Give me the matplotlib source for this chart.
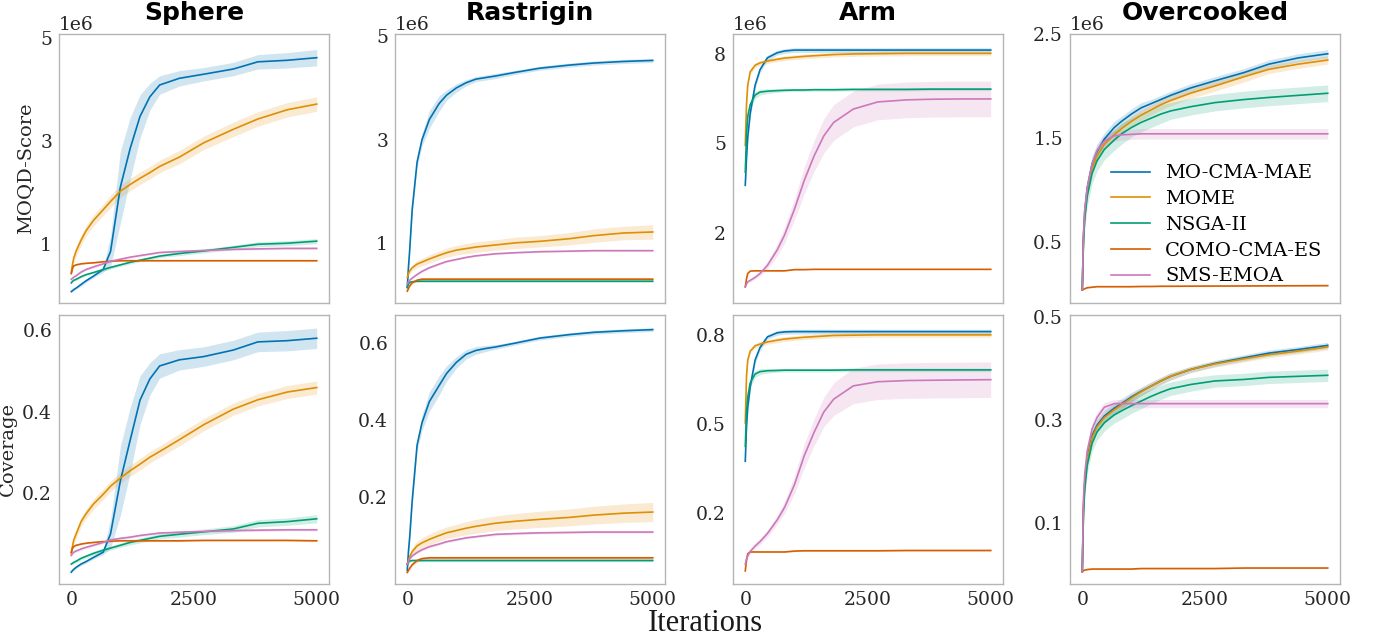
import matplotlib
matplotlib.use("Agg")
import matplotlib.pyplot as plt
import numpy as np

plt.rcParams['font.family'] = ['DejaVu Serif']
plt.rcParams['xtick.labelsize'] = 13.5
plt.rcParams['ytick.labelsize'] = 13.5

ITERS = [0, 25, 50, 100, 200, 300, 450, 650, 800, 1000, 1200, 1400, 1600, 1800,
         2200, 2700, 3300, 3800, 4400, 5000]

ALGOS = ['MO-CMA-MAE', 'MOME', 'NSGA-II', 'COMO-CMA-ES', 'SMS-EMOA']
COLORS = ['#0173B2', '#DE8F05', '#029E73', '#D55E00', '#CC78BC']
ENVS = ['Sphere', 'Rastrigin', 'Arm', 'Overcooked']

# ---- MOQD-Score (in units of 1e6), rows follow ALGOS ----
sphere_score = [
    [0.07, 0.09, 0.11, 0.14, 0.21, 0.28, 0.37, 0.50, 0.85, 2.10, 2.85, 3.47, 3.85, 4.08, 4.21, 4.29, 4.39, 4.53, 4.56, 4.61],
    [0.44, 0.60, 0.72, 0.86, 1.07, 1.25, 1.45, 1.66, 1.82, 2.02, 2.15, 2.27, 2.38, 2.50, 2.68, 2.96, 3.22, 3.42, 3.60, 3.71],
    [0.24, 0.27, 0.29, 0.31, 0.36, 0.40, 0.44, 0.50, 0.54, 0.59, 0.64, 0.68, 0.72, 0.76, 0.81, 0.86, 0.93, 0.99, 1.01, 1.05],
    [0.42, 0.52, 0.57, 0.59, 0.61, 0.62, 0.63, 0.65, 0.66, 0.67, 0.67, 0.67, 0.67, 0.67, 0.67, 0.67, 0.67, 0.67, 0.67, 0.67],
    [0.31, 0.33, 0.35, 0.38, 0.45, 0.50, 0.55, 0.61, 0.66, 0.70, 0.74, 0.77, 0.80, 0.83, 0.85, 0.87, 0.89, 0.90, 0.91, 0.91],
]
sphere_score_sd = [
    [0.02, 0.02, 0.02, 0.02, 0.03, 0.03, 0.03, 0.05, 0.30, 0.70, 0.60, 0.42, 0.26, 0.18, 0.15, 0.13, 0.13, 0.14, 0.15, 0.16],
    [0.06, 0.08, 0.09, 0.10, 0.10, 0.10, 0.11, 0.11, 0.12, 0.12, 0.12, 0.12, 0.12, 0.12, 0.13, 0.13, 0.14, 0.14, 0.14, 0.14],
    [0.02, 0.02, 0.02, 0.02, 0.02, 0.02, 0.02, 0.03, 0.03, 0.03, 0.03, 0.03, 0.03, 0.03, 0.04, 0.04, 0.04, 0.05, 0.05, 0.05],
    [0.01, 0.01, 0.01, 0.01, 0.01, 0.01, 0.01, 0.01, 0.01, 0.01, 0.01, 0.01, 0.01, 0.01, 0.01, 0.01, 0.01, 0.01, 0.01, 0.01],
    [0.01, 0.01, 0.01, 0.01, 0.02, 0.02, 0.02, 0.02, 0.02, 0.02, 0.02, 0.02, 0.02, 0.02, 0.02, 0.02, 0.02, 0.02, 0.02, 0.02],
]
rastrigin_score = [
    [0.15, 0.55, 0.88, 1.65, 2.57, 3.00, 3.39, 3.70, 3.86, 4.00, 4.10, 4.17, 4.20, 4.23, 4.30, 4.38, 4.44, 4.48, 4.51, 4.53],
    [0.34, 0.42, 0.47, 0.53, 0.60, 0.64, 0.70, 0.77, 0.82, 0.87, 0.90, 0.93, 0.95, 0.97, 1.01, 1.04, 1.09, 1.15, 1.20, 1.22],
    [0.15, 0.22, 0.25, 0.26, 0.27, 0.27, 0.27, 0.27, 0.27, 0.27, 0.27, 0.27, 0.27, 0.27, 0.27, 0.27, 0.27, 0.27, 0.27, 0.27],
    [0.08, 0.13, 0.18, 0.24, 0.29, 0.31, 0.31, 0.31, 0.31, 0.31, 0.31, 0.31, 0.31, 0.31, 0.31, 0.31, 0.31, 0.31, 0.31, 0.31],
    [0.22, 0.26, 0.29, 0.33, 0.40, 0.46, 0.53, 0.60, 0.65, 0.69, 0.73, 0.76, 0.78, 0.80, 0.82, 0.84, 0.85, 0.86, 0.86, 0.86],
]
rastrigin_score_sd = [
    [0.02, 0.05, 0.05, 0.08, 0.10, 0.12, 0.17, 0.15, 0.10, 0.08, 0.06, 0.05, 0.05, 0.05, 0.04, 0.04, 0.04, 0.04, 0.04, 0.04],
    [0.05, 0.05, 0.06, 0.06, 0.07, 0.07, 0.08, 0.08, 0.09, 0.09, 0.10, 0.10, 0.10, 0.10, 0.11, 0.11, 0.12, 0.13, 0.13, 0.14],
    [0.02, 0.02, 0.02, 0.02, 0.02, 0.02, 0.02, 0.02, 0.02, 0.02, 0.02, 0.02, 0.02, 0.02, 0.02, 0.02, 0.02, 0.02, 0.02, 0.02],
    [0.02, 0.02, 0.02, 0.02, 0.02, 0.02, 0.02, 0.02, 0.02, 0.02, 0.02, 0.02, 0.02, 0.02, 0.02, 0.02, 0.02, 0.02, 0.02, 0.02],
    [0.01, 0.01, 0.01, 0.01, 0.015, 0.015, 0.015, 0.015, 0.015, 0.015, 0.015, 0.015, 0.015, 0.015, 0.015, 0.015, 0.015, 0.015, 0.015, 0.015],
]
arm_score = [
    [3.59, 4.50, 5.20, 6.00, 6.95, 7.47, 7.87, 8.04, 8.10, 8.13, 8.13, 8.13, 8.13, 8.13, 8.13, 8.13, 8.13, 8.13, 8.13, 8.13],
    [4.93, 6.30, 6.95, 7.40, 7.62, 7.70, 7.76, 7.82, 7.86, 7.89, 7.92, 7.94, 7.96, 7.98, 8.00, 8.01, 8.02, 8.02, 8.02, 8.02],
    [4.03, 5.30, 5.90, 6.30, 6.62, 6.72, 6.75, 6.77, 6.78, 6.79, 6.79, 6.80, 6.80, 6.80, 6.81, 6.81, 6.81, 6.82, 6.82, 6.82],
    [0.18, 0.45, 0.63, 0.71, 0.72, 0.72, 0.72, 0.72, 0.72, 0.76, 0.76, 0.77, 0.77, 0.77, 0.77, 0.77, 0.77, 0.77, 0.77, 0.77],
    [0.18, 0.28, 0.35, 0.40, 0.50, 0.63, 0.90, 1.42, 1.92, 2.78, 3.75, 4.57, 5.25, 5.70, 6.15, 6.39, 6.46, 6.48, 6.49, 6.49],
]
arm_score_sd = [
    [0.05, 0.10, 0.12, 0.15, 0.12, 0.10, 0.09, 0.08, 0.08, 0.08, 0.08, 0.08, 0.08, 0.08, 0.08, 0.08, 0.08, 0.08, 0.08, 0.08],
    [0.05, 0.08, 0.08, 0.08, 0.08, 0.08, 0.08, 0.08, 0.08, 0.08, 0.08, 0.08, 0.08, 0.08, 0.08, 0.08, 0.08, 0.08, 0.08, 0.08],
    [0.05, 0.10, 0.12, 0.12, 0.12, 0.10, 0.08, 0.06, 0.05, 0.05, 0.05, 0.05, 0.05, 0.05, 0.05, 0.05, 0.05, 0.05, 0.05, 0.05],
    [0.01, 0.01, 0.01, 0.01, 0.01, 0.01, 0.01, 0.01, 0.01, 0.01, 0.01, 0.01, 0.01, 0.01, 0.01, 0.01, 0.01, 0.01, 0.01, 0.01],
    [0.03, 0.03, 0.04, 0.05, 0.06, 0.08, 0.12, 0.20, 0.27, 0.35, 0.45, 0.52, 0.58, 0.60, 0.60, 0.60, 0.60, 0.60, 0.60, 0.60],
]
overcooked_score = [
    [0.04, 0.57, 0.80, 1.02, 1.25, 1.37, 1.49, 1.60, 1.66, 1.73, 1.79, 1.83, 1.87, 1.91, 1.98, 2.05, 2.13, 2.21, 2.27, 2.31],
    [0.04, 0.54, 0.75, 0.97, 1.21, 1.33, 1.44, 1.53, 1.59, 1.66, 1.72, 1.77, 1.82, 1.86, 1.93, 2.00, 2.09, 2.16, 2.21, 2.25],
    [0.04, 0.51, 0.72, 0.94, 1.16, 1.28, 1.39, 1.48, 1.54, 1.60, 1.65, 1.69, 1.73, 1.76, 1.80, 1.84, 1.87, 1.89, 1.91, 1.93],
    [0.04, 0.045, 0.05, 0.06, 0.065, 0.07, 0.07, 0.07, 0.07, 0.07, 0.072, 0.072, 0.074, 0.074, 0.075, 0.076, 0.077, 0.078, 0.079, 0.08],
    [0.04, 0.57, 0.80, 1.02, 1.25, 1.38, 1.47, 1.52, 1.53, 1.535, 1.54, 1.54, 1.54, 1.54, 1.54, 1.54, 1.54, 1.54, 1.54, 1.54],
]
overcooked_score_sd = [
    [0.01, 0.06, 0.08, 0.08, 0.08, 0.07, 0.06, 0.06, 0.05, 0.05, 0.05, 0.04, 0.04, 0.04, 0.04, 0.04, 0.04, 0.04, 0.04, 0.04],
    [0.01, 0.05, 0.06, 0.06, 0.06, 0.06, 0.05, 0.05, 0.05, 0.05, 0.05, 0.05, 0.05, 0.05, 0.05, 0.05, 0.05, 0.04, 0.04, 0.04],
    [0.01, 0.08, 0.10, 0.10, 0.10, 0.10, 0.10, 0.10, 0.10, 0.09, 0.09, 0.09, 0.09, 0.08, 0.08, 0.08, 0.08, 0.08, 0.08, 0.08],
    [0.005, 0.005, 0.005, 0.005, 0.005, 0.005, 0.005, 0.005, 0.005, 0.005, 0.005, 0.005, 0.005, 0.005, 0.005, 0.005, 0.005, 0.005, 0.005, 0.005],
    [0.01, 0.05, 0.05, 0.05, 0.05, 0.05, 0.05, 0.05, 0.05, 0.05, 0.05, 0.05, 0.05, 0.05, 0.05, 0.05, 0.05, 0.05, 0.05, 0.05],
]

# ---- Coverage ----
sphere_cov = [
    [0.006, 0.010, 0.013, 0.018, 0.026, 0.032, 0.042, 0.055, 0.100, 0.230, 0.330, 0.428, 0.480, 0.512, 0.527, 0.535, 0.551, 0.571, 0.574, 0.580],
    [0.052, 0.070, 0.085, 0.100, 0.130, 0.149, 0.173, 0.197, 0.217, 0.237, 0.255, 0.271, 0.288, 0.302, 0.331, 0.368, 0.406, 0.429, 0.448, 0.459],
    [0.026, 0.028, 0.030, 0.033, 0.040, 0.045, 0.052, 0.060, 0.065, 0.072, 0.079, 0.084, 0.089, 0.094, 0.099, 0.105, 0.112, 0.126, 0.130, 0.137],
    [0.055, 0.065, 0.069, 0.072, 0.075, 0.077, 0.079, 0.081, 0.082, 0.083, 0.083, 0.083, 0.083, 0.083, 0.083, 0.084, 0.084, 0.084, 0.084, 0.083],
    [0.047, 0.052, 0.055, 0.058, 0.063, 0.067, 0.072, 0.079, 0.085, 0.089, 0.092, 0.096, 0.099, 0.102, 0.104, 0.106, 0.108, 0.109, 0.110, 0.110],
]
sphere_cov_sd = [
    [0.002, 0.002, 0.003, 0.003, 0.003, 0.004, 0.004, 0.006, 0.035, 0.085, 0.080, 0.060, 0.040, 0.030, 0.025, 0.024, 0.024, 0.024, 0.025, 0.025],
    [0.008, 0.010, 0.011, 0.012, 0.012, 0.012, 0.013, 0.013, 0.013, 0.013, 0.014, 0.014, 0.014, 0.014, 0.015, 0.015, 0.015, 0.015, 0.016, 0.016],
    [0.003, 0.003, 0.003, 0.004, 0.004, 0.004, 0.005, 0.005, 0.005, 0.005, 0.006, 0.006, 0.006, 0.006, 0.007, 0.007, 0.008, 0.009, 0.009, 0.010],
    [0.002, 0.002, 0.002, 0.002, 0.002, 0.002, 0.002, 0.002, 0.002, 0.002, 0.002, 0.002, 0.002, 0.002, 0.002, 0.002, 0.002, 0.002, 0.002, 0.002],
    [0.002, 0.002, 0.002, 0.002, 0.003, 0.003, 0.003, 0.003, 0.003, 0.003, 0.003, 0.003, 0.003, 0.003, 0.003, 0.003, 0.003, 0.003, 0.003, 0.003],
]
rastrigin_cov = [
    [0.009, 0.060, 0.097, 0.190, 0.335, 0.393, 0.448, 0.490, 0.521, 0.550, 0.571, 0.581, 0.586, 0.590, 0.600, 0.613, 0.622, 0.628, 0.632, 0.635],
    [0.026, 0.035, 0.045, 0.058, 0.073, 0.081, 0.090, 0.100, 0.107, 0.113, 0.119, 0.124, 0.128, 0.132, 0.137, 0.142, 0.147, 0.153, 0.158, 0.161],
    [0.026, 0.031, 0.034, 0.035, 0.035, 0.035, 0.035, 0.035, 0.035, 0.035, 0.035, 0.035, 0.035, 0.035, 0.035, 0.035, 0.035, 0.035, 0.035, 0.035],
    [0.004, 0.010, 0.015, 0.024, 0.035, 0.040, 0.042, 0.042, 0.042, 0.042, 0.042, 0.042, 0.042, 0.042, 0.042, 0.042, 0.042, 0.042, 0.042, 0.042],
    [0.026, 0.033, 0.040, 0.047, 0.056, 0.063, 0.071, 0.078, 0.084, 0.089, 0.094, 0.097, 0.100, 0.103, 0.105, 0.107, 0.108, 0.109, 0.109, 0.109],
]
rastrigin_cov_sd = [
    [0.003, 0.008, 0.010, 0.012, 0.015, 0.020, 0.025, 0.025, 0.020, 0.015, 0.012, 0.010, 0.008, 0.006, 0.005, 0.005, 0.005, 0.005, 0.005, 0.005],
    [0.008, 0.010, 0.010, 0.011, 0.012, 0.013, 0.014, 0.015, 0.015, 0.016, 0.017, 0.018, 0.019, 0.019, 0.020, 0.021, 0.022, 0.023, 0.024, 0.025],
    [0.003, 0.003, 0.003, 0.003, 0.003, 0.003, 0.003, 0.003, 0.003, 0.003, 0.003, 0.003, 0.003, 0.003, 0.003, 0.003, 0.003, 0.003, 0.003, 0.003],
    [0.004, 0.004, 0.004, 0.004, 0.004, 0.004, 0.004, 0.004, 0.004, 0.004, 0.004, 0.004, 0.004, 0.004, 0.004, 0.004, 0.004, 0.004, 0.004, 0.004],
    [0.003, 0.003, 0.003, 0.003, 0.003, 0.003, 0.003, 0.003, 0.003, 0.003, 0.003, 0.003, 0.003, 0.003, 0.003, 0.003, 0.003, 0.003, 0.003, 0.003],
]
arm_cov = [
    [0.374, 0.490, 0.555, 0.625, 0.715, 0.757, 0.793, 0.807, 0.810, 0.811, 0.811, 0.811, 0.811, 0.811, 0.811, 0.811, 0.811, 0.811, 0.811, 0.811],
    [0.503, 0.660, 0.715, 0.745, 0.763, 0.769, 0.776, 0.782, 0.786, 0.789, 0.792, 0.794, 0.796, 0.798, 0.799, 0.800, 0.800, 0.800, 0.800, 0.800],
    [0.424, 0.540, 0.590, 0.638, 0.668, 0.676, 0.679, 0.680, 0.681, 0.681, 0.681, 0.681, 0.681, 0.681, 0.682, 0.682, 0.682, 0.682, 0.682, 0.682],
    [0.004, 0.040, 0.062, 0.068, 0.068, 0.068, 0.068, 0.068, 0.068, 0.071, 0.072, 0.072, 0.072, 0.072, 0.072, 0.072, 0.073, 0.073, 0.073, 0.073],
    [0.026, 0.045, 0.055, 0.070, 0.088, 0.103, 0.130, 0.176, 0.218, 0.294, 0.392, 0.471, 0.540, 0.583, 0.628, 0.642, 0.646, 0.647, 0.648, 0.649],
]
arm_cov_sd = [
    [0.005, 0.012, 0.015, 0.015, 0.012, 0.010, 0.008, 0.008, 0.008, 0.008, 0.008, 0.008, 0.008, 0.008, 0.008, 0.008, 0.008, 0.008, 0.008, 0.008],
    [0.008, 0.008, 0.008, 0.008, 0.008, 0.008, 0.008, 0.008, 0.008, 0.008, 0.008, 0.008, 0.008, 0.008, 0.008, 0.008, 0.008, 0.008, 0.008, 0.008],
    [0.005, 0.012, 0.014, 0.014, 0.012, 0.010, 0.008, 0.006, 0.006, 0.006, 0.006, 0.006, 0.006, 0.006, 0.006, 0.006, 0.006, 0.006, 0.006, 0.006],
    [0.002, 0.002, 0.002, 0.002, 0.002, 0.002, 0.002, 0.002, 0.002, 0.002, 0.002, 0.002, 0.002, 0.002, 0.002, 0.002, 0.002, 0.002, 0.002, 0.002],
    [0.004, 0.005, 0.006, 0.007, 0.008, 0.010, 0.012, 0.015, 0.020, 0.030, 0.040, 0.045, 0.050, 0.055, 0.060, 0.060, 0.060, 0.060, 0.060, 0.060],
]
overcooked_cov = [
    [0.006, 0.135, 0.180, 0.228, 0.270, 0.290, 0.308, 0.323, 0.332, 0.345, 0.356, 0.366, 0.376, 0.385, 0.398, 0.410, 0.421, 0.430, 0.437, 0.445],
    [0.006, 0.130, 0.175, 0.224, 0.266, 0.287, 0.305, 0.320, 0.330, 0.343, 0.355, 0.366, 0.376, 0.385, 0.398, 0.409, 0.419, 0.427, 0.434, 0.442],
    [0.006, 0.120, 0.165, 0.212, 0.255, 0.277, 0.295, 0.310, 0.318, 0.328, 0.337, 0.346, 0.354, 0.361, 0.369, 0.376, 0.379, 0.383, 0.385, 0.387],
    [0.006, 0.008, 0.009, 0.010, 0.011, 0.011, 0.011, 0.011, 0.011, 0.011, 0.012, 0.012, 0.012, 0.012, 0.012, 0.012, 0.013, 0.013, 0.013, 0.013],
    [0.006, 0.150, 0.195, 0.240, 0.283, 0.305, 0.325, 0.332, 0.332, 0.332, 0.332, 0.332, 0.332, 0.332, 0.332, 0.332, 0.332, 0.332, 0.332, 0.332],
]
overcooked_cov_sd = [
    [0.001, 0.010, 0.012, 0.012, 0.012, 0.012, 0.012, 0.011, 0.010, 0.009, 0.008, 0.008, 0.007, 0.007, 0.006, 0.006, 0.006, 0.006, 0.006, 0.006],
    [0.001, 0.010, 0.012, 0.012, 0.012, 0.012, 0.011, 0.010, 0.009, 0.008, 0.008, 0.007, 0.007, 0.007, 0.006, 0.006, 0.006, 0.006, 0.006, 0.006],
    [0.001, 0.012, 0.015, 0.016, 0.016, 0.016, 0.016, 0.016, 0.016, 0.015, 0.015, 0.014, 0.014, 0.013, 0.013, 0.012, 0.012, 0.012, 0.012, 0.012],
    [0.001, 0.001, 0.001, 0.001, 0.001, 0.001, 0.001, 0.001, 0.001, 0.001, 0.001, 0.001, 0.001, 0.001, 0.001, 0.001, 0.001, 0.001, 0.001, 0.001],
    [0.001, 0.008, 0.010, 0.010, 0.010, 0.010, 0.009, 0.008, 0.008, 0.008, 0.008, 0.008, 0.008, 0.008, 0.008, 0.008, 0.008, 0.008, 0.008, 0.008],
]

score_ticks = [[1, 3, 5], [1, 3, 5], [2, 5, 8], [0.5, 1.5, 2.5]]
cov_ticks = [[0.2, 0.4, 0.6], [0.2, 0.4, 0.6], [0.2, 0.5, 0.8], [0.1, 0.3, 0.5]]
x_ticks = [0, 2500, 5000]

scores = [sphere_score, rastrigin_score, arm_score, overcooked_score]
scores_sd = [sphere_score_sd, rastrigin_score_sd, arm_score_sd, overcooked_score_sd]
covs = [sphere_cov, rastrigin_cov, arm_cov, overcooked_cov]
covs_sd = [sphere_cov_sd, rastrigin_cov_sd, arm_cov_sd, overcooked_cov_sd]

# layout (figure pixels -> fractions)
W, H = 1378, 636
col_left = [59, 395, 733, 1070]
ax_w, ax_h = 270, 269
row_top = [34, 315]
score_ylim = [(-0.15, 5.07), (-0.15, 5.04), (-0.36, 8.67), (-0.087, 2.5)]
cov_ylim = [(-0.023, 0.637), (-0.026, 0.673), (-0.04, 0.867), (-0.018, 0.504)]


def style_axis(ax):
    for sp in ax.spines.values():
        sp.set_color('#b5b5b5')
        sp.set_linewidth(1.0)
    ax.tick_params(length=0, colors='#262626', pad=5)


def draw(ax, means, sds, scale):
    x = np.array(ITERS)
    for m, s, c, name in zip(means, sds, COLORS, ALGOS):
        m = np.array(m) * scale
        s = np.array(s) * scale
        ax.fill_between(x, m - s, m + s, color=c, alpha=0.18, lw=0)
        ax.plot(x, m, color=c, lw=1.2, label=name)


fig = plt.figure(figsize=(W / 100, H / 100), dpi=100)

for i, env in enumerate(ENVS):
    for r in range(2):
        rect = [col_left[i] / W, 1 - (row_top[r] + ax_h) / H, ax_w / W, ax_h / H]
        ax = fig.add_axes(rect)
        if r == 0:
            draw(ax, scores[i], scores_sd[i], 1e6)
            ax.set_ylim(score_ylim[i][0] * 1e6, score_ylim[i][1] * 1e6)
            ax.set_yticks([t * 1e6 for t in score_ticks[i]])
            ax.set_title(env, fontsize=18, fontweight='heavy',
                         family='DejaVu Sans', pad=10)
        else:
            draw(ax, covs[i], covs_sd[i], 1.0)
            ax.set_ylim(*cov_ylim[i])
            ax.set_yticks(cov_ticks[i])
        ax.set_xlim(-250, 5250)
        ax.set_xticks(x_ticks)
        if r == 0:
            ax.set_xticklabels([])
        style_axis(ax)
        if i == 0:
            ax.set_ylabel('MOQD-Score' if r == 0 else 'Coverage', fontsize=14,
                          color='#262626', labelpad=4)
        if i == 3 and r == 0:
            ax.legend(loc='lower right', frameon=False, fontsize=14,
                      labelspacing=0.4, handlelength=2.0)

fig.text(0.512, 1 - 631 / H, 'Iterations', ha='center', va='baseline',
         fontsize=22, family='Liberation Serif', color='#1a1a1a')

fig.savefig('out.png', dpi=100)
